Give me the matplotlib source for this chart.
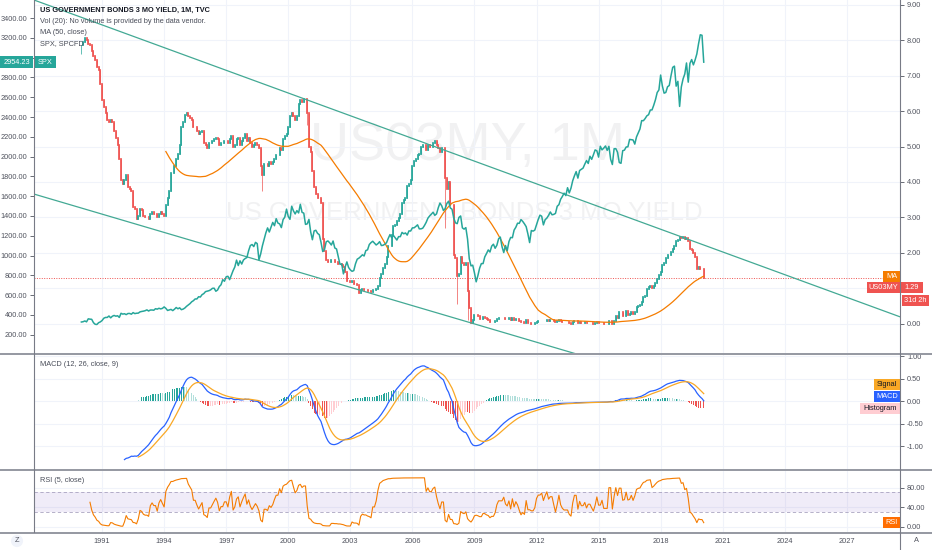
import numpy as np
import pandas as pd
import matplotlib.pyplot as plt
from matplotlib.lines import Line2D
from matplotlib.patches import Rectangle

plt.rcParams['font.family'] = ['Liberation Sans', 'DejaVu Sans']
plt.rcParams['font.size'] = 5.3

W, H = 932, 550

# US03MY monthly closes, Jan 1990 .. Feb 2020
yield_close = [
    7.85, 7.95, 8.05, 8.00, 7.90, 7.85, 7.70, 7.55, 7.45, 7.25, 7.15, 6.75,
    6.30, 6.10, 5.95, 5.75, 5.70, 5.75, 5.70, 5.45, 5.25, 5.05, 4.65, 4.05,
    3.95, 4.05, 4.20, 3.85, 3.80, 3.75, 3.30, 3.25, 2.95, 3.05, 3.25, 3.20,
    3.05, 3.00, 3.00, 2.95, 3.10, 3.15, 3.10, 3.10, 3.00, 3.10, 3.15, 3.10,
    3.05, 3.35, 3.55, 3.75, 4.25, 4.25, 4.45, 4.65, 4.80, 5.05, 5.55, 5.70,
    5.90, 5.95, 5.85, 5.80, 5.75, 5.55, 5.55, 5.45, 5.35, 5.40, 5.45, 5.10,
    5.05, 4.95, 5.10, 5.10, 5.15, 5.20, 5.25, 5.20, 5.05, 5.10, 5.10, 5.15,
    5.15, 5.10, 5.20, 5.30, 5.00, 5.05, 5.20, 5.25, 5.05, 5.15, 5.25, 5.35,
    5.15, 5.25, 5.10, 5.00, 5.05, 5.10, 5.05, 4.95, 4.45, 4.20, 4.50, 4.50,
    4.45, 4.55, 4.50, 4.55, 4.65, 4.75, 4.75, 4.95, 4.90, 5.20, 5.30, 5.35,
    5.55, 5.85, 5.95, 5.85, 5.75, 5.85, 6.20, 6.30, 6.25, 6.35, 6.35, 5.95,
    5.00, 4.85, 4.30, 3.85, 3.65, 3.55, 3.55, 3.40, 2.40, 2.05, 1.80, 1.75,
    1.75, 1.80, 1.80, 1.75, 1.75, 1.70, 1.70, 1.65, 1.60, 1.45, 1.22, 1.20,
    1.17, 1.20, 1.12, 1.12, 1.10, 0.87, 0.95, 0.97, 0.95, 0.95, 0.93, 0.92,
    0.90, 0.95, 0.95, 0.98, 1.08, 1.30, 1.40, 1.58, 1.70, 1.90, 2.20, 2.20,
    2.50, 2.75, 2.78, 2.90, 2.98, 3.10, 3.40, 3.50, 3.55, 3.90, 3.95, 4.05,
    4.45, 4.60, 4.65, 4.75, 4.80, 5.00, 5.05, 5.05, 4.90, 5.05, 5.00, 5.00,
    5.10, 5.15, 5.05, 4.95, 4.85, 4.95, 4.95, 4.10, 3.80, 4.00, 3.35, 3.35,
    1.95, 1.85, 1.35, 1.40, 1.88, 1.73, 1.66, 1.72, 0.92, 0.46, 0.02, 0.11,
    0.24, 0.26, 0.21, 0.14, 0.14, 0.19, 0.18, 0.14, 0.12, 0.05, 0.06, 0.06,
    0.08, 0.13, 0.16, 0.16, 0.16, 0.18, 0.15, 0.14, 0.16, 0.12, 0.17, 0.12,
    0.15, 0.13, 0.09, 0.04, 0.05, 0.03, 0.10, 0.02, 0.02, 0.01, 0.01, 0.02,
    0.06, 0.08, 0.08, 0.09, 0.07, 0.09, 0.11, 0.09, 0.10, 0.10, 0.08, 0.05,
    0.07, 0.11, 0.07, 0.05, 0.04, 0.04, 0.04, 0.02, 0.01, 0.04, 0.07, 0.07,
    0.02, 0.05, 0.03, 0.03, 0.04, 0.02, 0.03, 0.03, 0.02, 0.01, 0.02, 0.04,
    0.02, 0.02, 0.03, 0.01, 0.01, 0.01, 0.08, 0.08, 0.00, 0.08, 0.22, 0.16,
    0.33, 0.33, 0.21, 0.22, 0.35, 0.26, 0.27, 0.33, 0.28, 0.34, 0.48, 0.51,
    0.52, 0.62, 0.76, 0.80, 0.98, 1.03, 1.07, 1.01, 1.06, 1.15, 1.27, 1.39,
    1.46, 1.65, 1.73, 1.87, 1.93, 1.93, 2.03, 2.11, 2.19, 2.34, 2.37, 2.45,
    2.41, 2.45, 2.40, 2.43, 2.35, 2.12, 2.08, 1.99, 1.88, 1.54, 1.59, 1.55,
    1.55, 1.29,
]

# SPX monthly closes, same months
spx_close = [
    329.1, 331.9, 339.9, 330.8, 361.2, 358.0, 356.2, 322.6, 306.1, 304.0, 322.2, 330.2,
    343.9, 367.1, 375.2, 375.3, 389.8, 371.2, 387.8, 395.4, 387.9, 392.5, 375.2, 417.1,
    408.8, 412.7, 403.7, 414.9, 415.4, 408.1, 424.2, 414.0, 417.8, 418.7, 431.4, 435.7,
    438.8, 443.4, 451.7, 440.2, 450.2, 450.5, 448.1, 463.6, 458.9, 467.8, 461.8, 466.5,
    481.6, 467.1, 445.8, 450.9, 456.5, 444.3, 458.3, 475.5, 462.7, 472.4, 453.7, 459.3,
    470.4, 487.4, 500.7, 514.7, 533.4, 544.8, 562.1, 561.9, 584.4, 581.5, 605.4, 615.9,
    636.0, 640.4, 645.5, 654.2, 669.1, 670.6, 639.9, 652.0, 687.3, 705.3, 757.0, 740.7,
    786.2, 790.8, 757.1, 801.3, 848.3, 885.1, 954.3, 899.5, 947.3, 914.6, 955.4, 970.4,
    980.3, 1049.3, 1101.8, 1111.8, 1090.8, 1133.8, 1120.7, 957.3, 1017.0, 1098.7, 1163.6, 1229.2,
    1279.6, 1238.3, 1286.4, 1335.2, 1301.8, 1372.7, 1328.7, 1320.4, 1282.7, 1362.9, 1389.0, 1469.3,
    1394.5, 1366.4, 1498.6, 1452.4, 1420.6, 1454.6, 1430.8, 1517.7, 1436.5, 1429.4, 1315.2, 1320.3,
    1366.0, 1239.9, 1160.3, 1249.5, 1255.8, 1224.4, 1211.2, 1133.6, 1040.9, 1059.8, 1139.5, 1148.1,
    1130.2, 1106.7, 1147.4, 1076.9, 1067.1, 989.8, 911.6, 916.1, 815.3, 885.8, 936.3, 879.8,
    855.7, 841.2, 848.2, 916.9, 963.6, 974.5, 990.3, 1008.0, 996.0, 1050.7, 1058.2, 1111.9,
    1131.1, 1144.9, 1126.2, 1107.3, 1120.7, 1140.8, 1101.7, 1104.2, 1114.6, 1130.2, 1173.8, 1211.9,
    1181.3, 1203.6, 1180.6, 1156.9, 1191.5, 1191.3, 1234.2, 1220.3, 1228.8, 1207.0, 1249.5, 1248.3,
    1280.1, 1280.7, 1294.8, 1310.6, 1270.1, 1270.2, 1276.7, 1303.8, 1335.9, 1377.9, 1400.6, 1418.3,
    1438.2, 1406.8, 1420.9, 1482.4, 1530.6, 1503.4, 1455.3, 1474.0, 1526.8, 1549.4, 1481.1, 1468.4,
    1378.6, 1330.6, 1322.7, 1385.6, 1400.4, 1280.0, 1267.4, 1282.8, 1166.4, 968.8, 896.2, 903.3,
    825.9, 735.1, 797.9, 872.8, 919.1, 919.3, 987.5, 1020.6, 1057.1, 1036.2, 1095.6, 1115.1,
    1073.9, 1104.5, 1169.4, 1186.7, 1089.4, 1030.7, 1101.6, 1049.3, 1141.2, 1183.3, 1180.6, 1257.6,
    1286.1, 1327.2, 1325.8, 1363.6, 1345.2, 1320.6, 1292.3, 1218.9, 1131.4, 1253.3, 1247.0, 1257.6,
    1312.4, 1365.7, 1408.5, 1397.9, 1310.3, 1362.2, 1379.3, 1406.6, 1440.7, 1412.2, 1416.2, 1426.2,
    1498.1, 1514.7, 1569.2, 1597.6, 1630.7, 1606.3, 1685.7, 1633.0, 1681.6, 1756.5, 1805.8, 1848.4,
    1782.6, 1859.5, 1872.3, 1883.9, 1923.6, 1960.2, 1930.7, 2003.4, 1972.3, 2018.1, 2067.6, 2058.9,
    1995.0, 2104.5, 2067.9, 2085.5, 2107.4, 2063.1, 2103.8, 1972.2, 1920.0, 2079.4, 2080.4, 2043.9,
    1940.2, 1932.2, 2059.7, 2065.3, 2097.0, 2098.9, 2173.6, 2171.0, 2168.3, 2126.2, 2199.0, 2238.8,
    2278.9, 2363.6, 2362.7, 2384.2, 2411.8, 2423.4, 2470.3, 2471.7, 2519.4, 2575.3, 2647.6, 2673.6,
    2823.8, 2713.8, 2640.9, 2648.1, 2705.3, 2718.4, 2816.3, 2901.5, 2914.0, 2711.7, 2760.2, 2506.9,
    2704.1, 2784.5, 2834.4, 2945.8, 2752.1, 2941.8, 2980.4, 2926.5, 2976.7, 3037.6, 3141.0, 3230.8,
    3225.5, 2954.23,
]

# a few long lower wicks visible on the candles (year, month, low)
wick_lows = [(1990, 1, 7.60), (1998, 10, 3.75), (2000, 12, 5.60), (2007, 8, 2.70), (2008, 3, 0.55), (2008, 9, 0.10)]

# channel lines drawn on the chart (date, yield)
upper_line_x, upper_line_y = [1987.71, 2029.57], [9.13, 0.20]
lower_line_x, lower_line_y = [1987.71, 2014.06], [3.66, -0.87]

year_ticks = list(range(1991, 2028, 3))

n = len(yield_close)
t = 1990 + np.arange(n) / 12.0
close = np.array(yield_close, float)
opn = np.r_[close[0], close[:-1]]
lo = np.minimum(opn, close)
hi = np.maximum(opn, close)
for yy, mm, v in wick_lows:
    i = (yy - 1990) * 12 + mm - 1
    lo[i] = min(lo[i], v)


def ema(x, length):
    x = np.asarray(x, float)
    out = np.full(len(x), np.nan)
    s = np.where(~np.isnan(x))[0][0]
    out[s + length - 1] = x[s:s + length].mean()
    a = 2.0 / (length + 1)
    for i in range(s + length, len(x)):
        out[i] = a * x[i] + (1 - a) * out[i - 1]
    return out


def rma(x, length, start):
    out = np.full(len(x), np.nan)
    out[start + length - 1] = x[start:start + length].mean()
    for i in range(start + length, len(x)):
        out[i] = (out[i - 1] * (length - 1) + x[i]) / length
    return out


ma50 = pd.Series(close).rolling(50).mean().values
macd = ema(close, 12) - ema(close, 26)
signal = ema(macd, 9)
hist = macd - signal

d = np.diff(close, prepend=close[0])
up = rma(np.where(d > 0, d, 0.0), 5, 1)
dn = rma(np.where(d < 0, -d, 0.0), 5, 1)
rsi = np.where(dn == 0, 100.0, 100 - 100 / (1 + up / np.where(dn == 0, 1, dn)))

fig = plt.figure(figsize=(W / 100, H / 100), dpi=100)
ax = fig.add_axes([34 / W, 1 - 353 / H, 866 / W, 353 / H])
ax_m = fig.add_axes([34 / W, 1 - 469 / H, 866 / W, 115 / H], sharex=ax)
ax_r = fig.add_axes([34 / W, 1 - 532 / H, 866 / W, 62 / H], sharex=ax)
ax_l = ax.twinx()

tick_col = '#50535e'
grid_col = '#f0f3fa'
for a in (ax, ax_m, ax_r):
    for s in a.spines.values():
        s.set_visible(False)
    a.set_xticks(year_ticks)
    a.grid(True, color=grid_col, lw=0.8)
    a.set_axisbelow(True)
    a.yaxis.tick_right()
    a.tick_params(axis='y', colors=tick_col, length=3, width=0.6, pad=2)
    a.tick_params(axis='x', length=0, labelbottom=False)
ax.set_xlim(1987.71, 2029.57)

# main pane: yield candles (the 1.00 label sits under the price tag)
ax.set_ylim(-0.82, 9.13)
ax.set_yticks(range(0, 10))
ax.set_yticklabels(['' if v == 1 else f'{v:.2f}' for v in range(0, 10)])
ax.text(0.501, 0.585, 'US03MY, 1M', transform=ax.transAxes, ha='center', va='center',
        fontsize=39, color='#9598a1', alpha=0.13, zorder=0)
ax.text(0.497, 0.397, 'US GOVERNMENT BONDS 3 MO YIELD', transform=ax.transAxes, ha='center',
        va='center', fontsize=18.5, color='#9598a1', alpha=0.13, zorder=0)
cols = np.where(close >= opn, '#26a69a', '#ef5350')
ax.vlines(t, lo, hi, colors=cols, lw=0.5, zorder=2)
ax.vlines(t, np.minimum(opn, close), np.maximum(opn, close), colors=cols, lw=1.25,
          capstyle='projecting', zorder=2)
ax.plot(t, ma50, color='#f57c00', lw=0.9, zorder=3)
ax.axhline(close[-1], color='#ef5350', ls=(0, (1, 1.5)), lw=0.7, zorder=1)
ax.plot(upper_line_x, upper_line_y, color='#43a994', lw=0.9, zorder=3)
ax.plot(lower_line_x, lower_line_y, color='#43a994', lw=0.9, zorder=3)

# SPX on the left scale (the 3000.00 label sits under the SPX tag)
for s in ax_l.spines.values():
    s.set_visible(False)
ax_l.set_ylim(16, 3582)
ax_l.yaxis.tick_left()
ax_l.set_yticks(range(200, 3600, 200))
ax_l.set_yticklabels(['' if v == 3000 else f'{v:.2f}' for v in range(200, 3600, 200)])
ax_l.tick_params(axis='y', colors=tick_col, length=3, width=0.6, pad=2)
ax_l.plot(t, spx_close, color='#26a69a', lw=1.1, zorder=4)

# MACD pane
ax_m.set_ylim(-1.504, 1.05)
mt = [1.0, 0.5, 0.0, -0.5, -1.0]
ax_m.set_yticks(mt)
ax_m.set_yticklabels([f'{v:.2f}' for v in mt])
hcols = []
for i in range(n):
    h, p = hist[i], hist[i - 1] if i > 0 else np.nan
    if h >= 0:
        hcols.append('#26a69a' if p < h else '#b2dfdb')
    else:
        hcols.append('#ffcdd2' if p < h else '#ef5350')
ok = ~np.isnan(hist)
ax_m.bar(t[ok], hist[ok], width=0.045, color=np.array(hcols)[ok], zorder=2)
ax_m.plot(t, macd, color='#2962ff', lw=0.9, zorder=3)
ax_m.plot(t, signal, color='#f9a825', lw=0.9, zorder=3)

# RSI pane
ax_r.set_ylim(-10.8, 116)
ax_r.set_yticks([0, 40, 80])
ax_r.set_yticklabels(['0.00', '40.00', '80.00'])
ax_r.axhspan(30, 70, color='#7e57c2', alpha=0.11, lw=0, zorder=1)
ax_r.axhline(70, color='#a9a3c0', ls=(0, (4, 3)), lw=0.6, zorder=1)
ax_r.axhline(30, color='#a9a3c0', ls=(0, (4, 3)), lw=0.6, zorder=1)
ax_r.plot(t, rsi, color='#f57c00', lw=0.8, zorder=3)
ax_r.tick_params(axis='x', labelbottom=True, colors=tick_col, pad=4)
ax_r.set_xticklabels([str(y) for y in year_ticks])

# pane separators and scale borders
sep = '#9598a1'
for yy in (354, 469.5, 532.5):
    fig.add_artist(Line2D([0, 1], [1 - yy / H] * 2, color=sep, lw=1.4))
fig.add_artist(Line2D([34 / W] * 2, [1 - 532 / H, 1], color='#787b86', lw=0.8))
fig.add_artist(Line2D([900 / W] * 2, [0, 1], color='#787b86', lw=0.8))

# legends
txt = '#4a4e5a'
fig.text(40 / W, 1 - 10 / H, 'US GOVERNMENT BONDS 3 MO YIELD, 1M, TVC', color='#131722',
         va='center', fontsize=5.3, weight='bold')
fig.text(40 / W, 1 - 21.5 / H, 'Vol (20): No volume is provided by the data vendor.', color=txt, va='center')
fig.text(40 / W, 1 - 33 / H, 'MA (50, close)', color=txt, va='center')
fig.text(40 / W, 1 - 44 / H, 'SPX, SPCFD', color=txt, va='center')
fig.text(40 / W, 1 - 365 / H, 'MACD (12, 26, close, 9)', color=txt, va='center')
fig.text(40 / W, 1 - 481 / H, 'RSI (5, close)', color=txt, va='center')


def tag(x0, x1, yc, text, bg, fg='white', h=11):
    fig.add_artist(Rectangle((x0 / W, 1 - (yc + h / 2) / H), (x1 - x0) / W, h / H,
                             transform=fig.transFigure, fc=bg, ec='none'))
    fig.text((x0 + x1) / 2 / W, 1 - yc / H, text, ha='center', va='center', color=fg)


tag(0, 33, 62, f'{spx_close[-1]:.2f}', '#26a69a')
tag(34, 56, 62, 'SPX', '#26a69a')
tag(883, 900, 276, 'MA', '#f57c00')
tag(867, 900, 287.5, 'US03MY', '#ef5350')
tag(900.5, 923, 287.5, f'{yield_close[-1]:.2f}', '#ef5350')
tag(902, 929, 300, '31d 2h', '#ef5350')
tag(874, 900, 384.5, 'Signal', '#f9a825', fg='#131722')
tag(874, 900, 396.5, 'MACD', '#2962ff')
tag(860, 900, 408, 'Histogram', '#ffcdd2', fg='#131722')
tag(883, 900, 522, 'RSI', '#ff6d00')

fig.text(17 / W, 1 - 541 / H, 'Z', ha='center', va='center', color=tick_col,
         bbox=dict(boxstyle='circle,pad=0.35', fc='#f0f3fa', ec='none'))
fig.text(916 / W, 1 - 541 / H, 'A', ha='center', va='center', color=tick_col)

fig.savefig('out.png', dpi=100)
